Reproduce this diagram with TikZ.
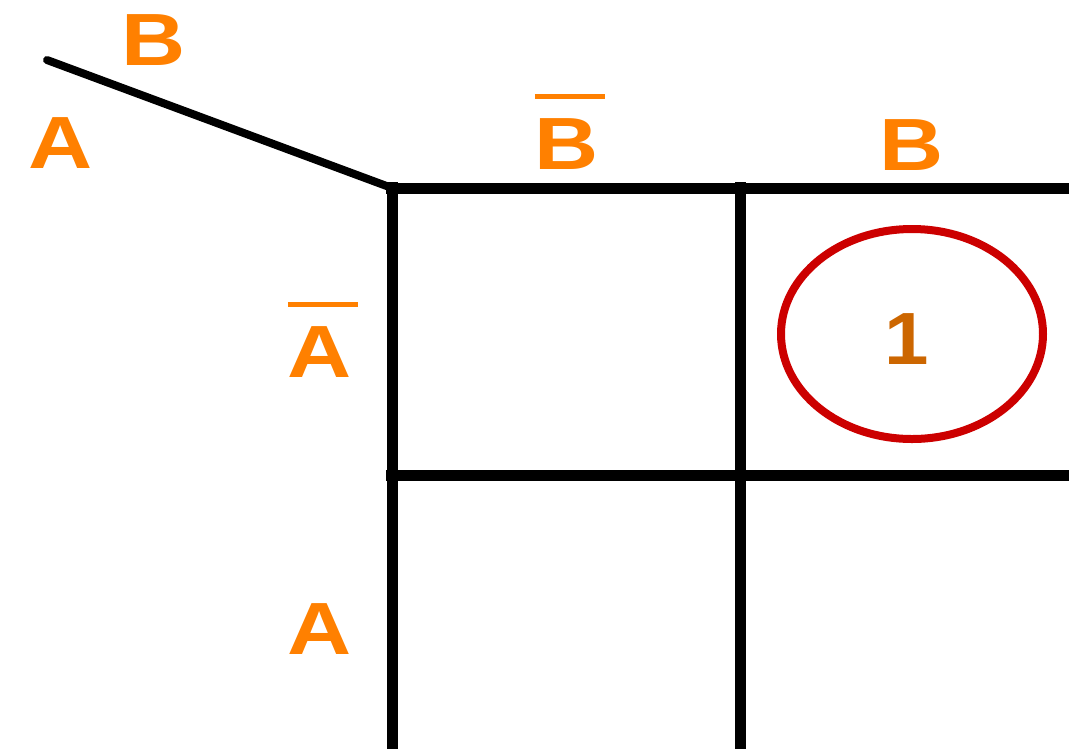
\documentclass[tikz,border=0pt]{standalone}
\usepackage{fontspec}
\usepackage{calc}
\setmainfont{Liberation Sans}
\definecolor{korange}{HTML}{FF8000}
\definecolor{kbrown}{HTML}{CC6600}
\definecolor{kred}{HTML}{CC0000}
\newcommand\negl[1]{\rlap{\rule[70pt]{\widthof{#1}*\real{1.1}}{5pt}}#1}
\begin{document}
\begin{tikzpicture}[x=1pt,y=-1pt,
	lbl/.style={text=korange, font=\bfseries\fontsize{74}{74}\selectfont, anchor=base, inner sep=0pt, xscale=1.2, transform shape},
	grid/.style={line width=11pt}]
		\useasboundingbox (0,0) rectangle (1069,748);
		
		\coordinate (corner) at (392,188);
		\coordinate (tip) at (47,60);
		\draw[line width=8pt, line cap=round] (tip) -- (corner);
		
		\draw[grid] (386,188) -- (1075,188);
		\draw[grid] (386,475) -- (1075,475);
		\draw[grid] (392,182) -- (392,755);
		\draw[grid] (740,182) -- (740,755);
		
		\node[lbl] (colB) at (154,65) {B};
		\node[lbl] (rowA) at (61,168) {A};
		\node[lbl] (nB) at (567,169) {\negl{B}};
		\node[lbl] (B) at (912,170) {B};
		\node[lbl] (nA) at (320,377) {\negl{A}};
		\node[lbl] (A) at (320,654) {A};
		
		\node[lbl, text=kbrown, xscale=0.9] (m1) at (907,364) {1};
		\draw[kred, line width=8pt] (912,334) ellipse [x radius=131, y radius=105];
	\end{tikzpicture}
\end{document}
